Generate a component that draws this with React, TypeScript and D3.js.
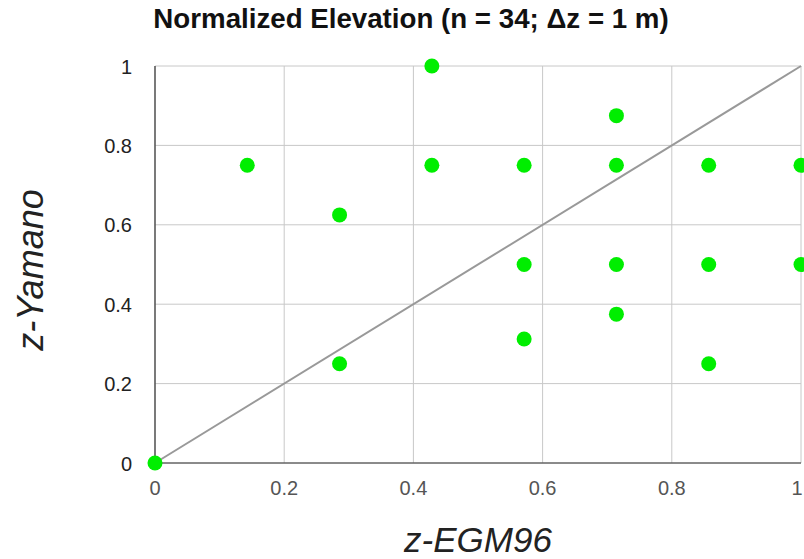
import React, { useEffect, useRef } from 'react';
import * as d3 from 'd3';

const xValues = [0, 1 / 7, 2 / 7, 2 / 7, 3 / 7, 3 / 7, 4 / 7, 4 / 7, 4 / 7, 5 / 7, 5 / 7, 5 / 7, 5 / 7, 6 / 7, 6 / 7, 6 / 7, 1, 1];
const yValues = [0, 0.75, 0.625, 0.25, 1, 0.75, 0.75, 0.5, 0.3125, 0.875, 0.75, 0.5, 0.375, 0.75, 0.5, 0.25, 0.75, 0.5];
const tickValues = [0, 0.2, 0.4, 0.6, 0.8, 1];
const refLine = [0, 1];

const font = 'Arial, "Liberation Sans", sans-serif';

export default function App() {
    const ref = useRef<SVGSVGElement>(null);

    useEffect(() => {
        const svg = d3.select(ref.current);
        svg.selectAll('*').remove();

        const width = 804;
        const height = 559;
        const left = 155, right = 801, top = 66, bottom = 463;

        const x = d3.scaleLinear().domain([0, 1]).range([left, right]);
        const y = d3.scaleLinear().domain([0, 1]).range([bottom, top]);

        svg.attr('width', width).attr('height', height);

        // gridlines
        svg.append('g').selectAll('line')
            .data(tickValues)
            .enter().append('line')
            .attr('x1', d => x(d)).attr('x2', d => x(d))
            .attr('y1', top).attr('y2', bottom)
            .attr('stroke', '#c8c8c8').attr('stroke-width', 1);
        svg.append('g').selectAll('line')
            .data(tickValues)
            .enter().append('line')
            .attr('x1', left).attr('x2', right)
            .attr('y1', d => y(d)).attr('y2', d => y(d))
            .attr('stroke', '#c8c8c8').attr('stroke-width', 1);

        // axis base lines
        svg.append('line')
            .attr('x1', left).attr('x2', left).attr('y1', top).attr('y2', bottom)
            .attr('stroke', '#333').attr('stroke-width', 1.2);
        svg.append('line')
            .attr('x1', left).attr('x2', right).attr('y1', bottom).attr('y2', bottom)
            .attr('stroke', '#333').attr('stroke-width', 1.2);

        // tick labels
        svg.append('g').selectAll('text')
            .data(tickValues)
            .enter().append('text')
            .attr('x', 132).attr('y', d => y(d) + 7.5)
            .attr('text-anchor', 'end')
            .style('font-family', font)
            .style('font-size', '20px')
            .attr('fill', '#222')
            .text(d => d3.format('')(d));
        svg.append('g').selectAll('text')
            .data(tickValues)
            .enter().append('text')
            .attr('x', d => Math.min(x(d), width - 7))
            .attr('y', 495)
            .attr('text-anchor', 'middle')
            .style('font-family', font)
            .style('font-size', '20px')
            .attr('fill', '#555')
            .text(d => d3.format('')(d));

        // 1:1 reference line
        const line = d3.line<number>().x(d => x(d)).y(d => y(d));
        svg.append('path')
            .attr('d', line(refLine))
            .attr('fill', 'none')
            .attr('stroke', '#999999')
            .attr('stroke-width', 2);

        // points
        svg.append('g').selectAll('circle')
            .data(xValues.map((v, i) => [v, yValues[i]]))
            .enter().append('circle')
            .attr('cx', d => x(d[0]))
            .attr('cy', d => y(d[1]))
            .attr('r', 7.5)
            .attr('fill', '#00ee00');

        // title and axis titles
        svg.append('text')
            .attr('x', 411).attr('y', 27.5)
            .attr('text-anchor', 'middle')
            .style('font-family', font)
            .style('font-size', '27.7px')
            .style('font-weight', 'bold')
            .attr('fill', '#111')
            .text('Normalized Elevation (n = 34; Δz = 1 m)');
        svg.append('text')
            .attr('x', 478).attr('y', 552)
            .attr('text-anchor', 'middle')
            .style('font-family', font)
            .style('font-size', '35px')
            .style('font-style', 'italic')
            .attr('fill', '#222')
            .text('z-EGM96');
        svg.append('text')
            .attr('transform', 'translate(43, 270) rotate(-90)')
            .attr('text-anchor', 'middle')
            .style('font-family', font)
            .style('font-size', '36px')
            .style('font-style', 'italic')
            .attr('fill', '#222')
            .text('z-Yamano');
    }, []);

    return (
        <div style={{ position: 'absolute', left: 0, top: 0 }}>
            <svg ref={ref}></svg>
        </div>
    );
}
